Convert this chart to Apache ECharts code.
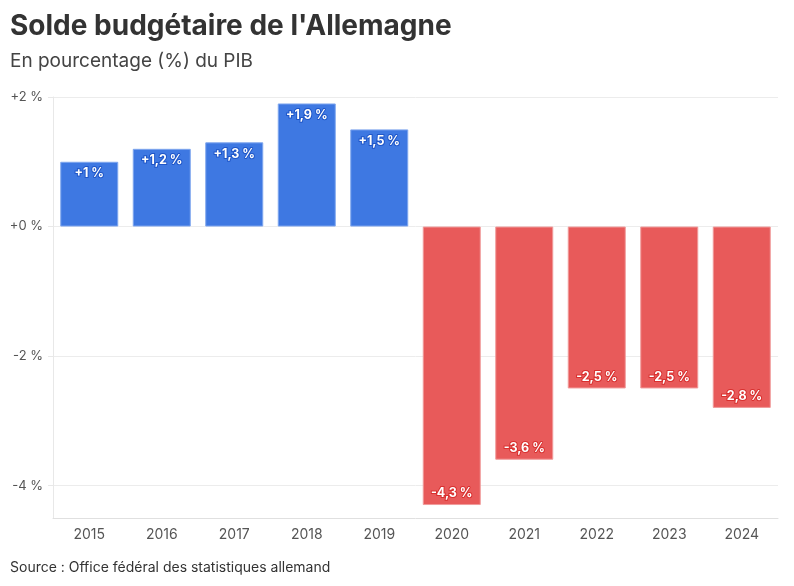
<!DOCTYPE html>
<html><head><meta charset="utf-8">
<script src="https://cdn.jsdelivr.net/npm/echarts@6/dist/echarts.min.js"></script>
<style>html,body{margin:0;padding:0;background:#fff}#c{width:794px;height:586px}</style>
</head><body><div id="c"></div>
<script>
const years = ['2015','2016','2017','2018','2019','2020','2021','2022','2023','2024'];
const balance = [1, 1.2, 1.3, 1.9, 1.5, -4.3, -3.6, -2.5, -2.5, -2.8];
const yTicks = [-4, -2, 0, 2];

const FONT = 'Inter, "Noto Sans", sans-serif';
const fmt = v => (v > 0 ? '+' : (v < 0 ? '-' : '+')) + String(Math.abs(v)).replace('.', ',') + ' %';

const chart = echarts.init(document.getElementById('c'), null, {renderer: 'canvas'});
chart.setOption({
  animation: false,
  backgroundColor: '#fff',
  title: [
    {text: "Solde budgétaire de l'Allemagne", left: 10, top: 13, padding: 0,
     textStyle: {fontFamily: FONT, fontSize: 28, fontWeight: 'bold', color: '#333'}},
    {text: 'En pourcentage (%) du PIB', left: 10, top: 52, padding: 0,
     textStyle: {fontFamily: FONT, fontSize: 19, fontWeight: 'normal', color: '#444'}},
    {text: 'Source : Office fédéral des statistiques allemand', left: 10, top: 561, padding: 0,
     textStyle: {fontFamily: FONT, fontSize: 14, fontWeight: 'normal', color: '#333'}}
  ],
  grid: {left: 53, right: 16, top: 97, bottom: 68, containLabel: false},
  xAxis: {
    type: 'category', data: years, position: 'bottom',
    axisLine: {onZero: false, lineStyle: {color: '#e0e0e0'}},
    axisTick: {alignWithLabel: true, length: 5, lineStyle: {color: '#e0e0e0'}},
    axisLabel: {fontFamily: FONT, fontSize: 14, color: '#555', margin: 10}
  },
  yAxis: {
    type: 'value', min: -4.5, max: 2,
    axisLine: {show: true, lineStyle: {color: '#e8e8e8'}},
    axisTick: {show: true, length: 5, customValues: yTicks, lineStyle: {color: '#e8e8e8'}},
    axisLabel: {customValues: yTicks, fontFamily: FONT, fontSize: 13, color: '#555', margin: 10,
                formatter: v => (v >= 0 ? '+' : '-') + Math.abs(v) + ' %'},
    splitLine: {show: true, lineStyle: {color: '#ececec'}}
  },
  series: [{
    type: 'bar', barCategoryGap: '20%',
    data: balance.map(v => ({
      value: v,
      itemStyle: {color: v >= 0 ? '#3e78e2' : '#e85a5a',
                  borderColor: v >= 0 ? '#7fa6ee' : '#f09a9a', borderWidth: 1},
      label: {position: v >= 0 ? 'insideTop' : 'insideBottom',
              textBorderColor: v >= 0 ? '#1f56c8' : '#d8302f'}
    })),
    label: {show: true, distance: 5, formatter: p => fmt(p.value), fontFamily: FONT,
            fontSize: 12.5, fontWeight: 'bold', color: '#fff', textBorderWidth: 2}
  }]
});
</script></body></html>
